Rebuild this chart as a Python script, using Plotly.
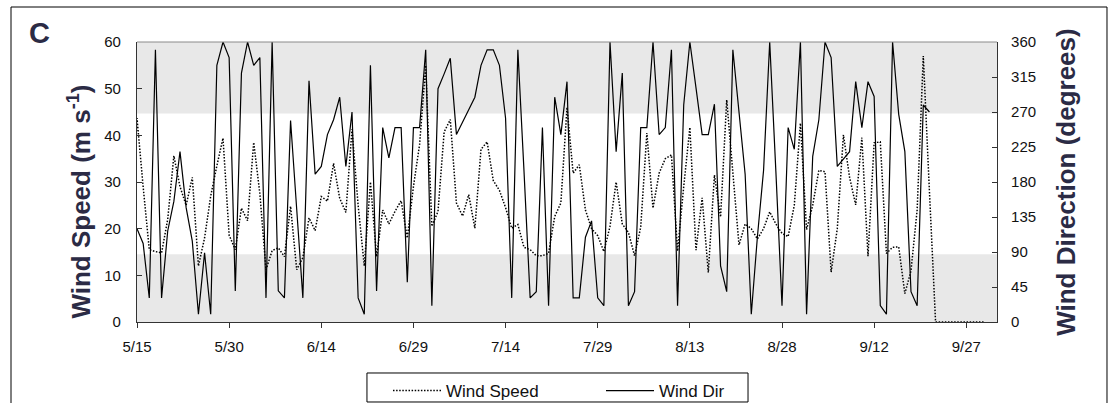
import pandas as pd
import plotly.graph_objects as go

# ---------------- data ----------------
start_date = "2003-05-15"
first_speed_value = 29.0          # reading just before 5/15 (5/14 noon)
wind_speed = [
    43.7, 29, 15.5, 15.1, 14.8, 22, 35.6, 29, 25, 31,
    12, 18, 27, 33.5, 39.4, 18.6, 15.5, 24.4, 21.7, 38.5,
    27.5, 11.2, 15.3, 15.9, 14, 24.8, 11.2, 13.8, 22.3, 19.6,
    26.9, 25.9, 34, 26.5, 23.5, 41.3, 25, 12, 30, 14,
    24, 21, 23.7, 26, 18, 29, 38, 55, 20.5, 23.7,
    40.7, 43.4, 25.5, 22.7, 27.3, 20.1, 37, 38.6, 30.3, 28.2,
    24.5, 20.1, 20.9, 16, 15.5, 14.2, 14.2, 14.7, 22.6, 25.5,
    46, 31.9, 33.7, 24, 20, 18.5, 15.1, 20.5, 30, 21,
    19.2, 14.2, 20.3, 40.5, 24.4, 31.9, 35, 35.8, 15.2, 29,
    41.7, 15.4, 26.6, 10.6, 31.5, 22.5, 47.6, 32, 16.5, 21,
    20, 17.8, 20, 23.6, 21, 19, 18.3, 25, 42.6, 19.8,
    25, 32.5, 32.2, 10.7, 20, 40.1, 31, 25.1, 39.5, 14.1,
    38.4, 38.6, 14.7, 16, 16.1, 6.1, 11, 24, 57, 28,
    0, 0, 0, 0, 0, 0, 0, 0, 0,
]
wind_dir = [
    120, 101, 31, 350, 31, 117, 155, 219, 147, 104,
    10, 89, 10, 330, 360, 340, 40, 320, 360, 330,
    340, 31, 360, 40, 31, 259, 145, 31, 310, 190,
    200, 241, 260, 289, 200, 270, 31, 10, 330, 40,
    250, 211, 250, 250, 51, 250, 250, 350, 21, 300,
    319, 339, 241, 258, 273, 289, 330, 350, 350, 330,
    262, 31, 350, 194, 31, 39, 250, 21, 289, 241,
    309, 31, 31, 109, 130, 31, 21, 360, 219, 320,
    21, 39, 250, 250, 360, 241, 250, 350, 21, 279,
    360, 301, 241, 241, 280, 72, 39, 350, 271, 190,
    10, 110, 195, 360, 194, 21, 250, 222, 360, 10,
    213, 260, 360, 340, 200, 209, 219, 309, 250, 309,
    290, 21, 10, 360, 267, 219, 39, 21, 279, 270,
]
tick_labels = ["5/15", "5/30", "6/14", "6/29", "7/14", "7/29",
               "8/13", "8/28", "9/12", "9/27"]
speed_ticks = [0, 10, 20, 30, 40, 50, 60]
dir_ticks = [0, 45, 90, 135, 180, 225, 270, 315, 360]
dir_bands = [(0, 87), (268, 360)]

# ---------------- build ----------------
t0 = pd.Timestamp(start_date)
speed_x = [t0 - pd.Timedelta(hours=12)] + list(pd.date_range(t0, periods=len(wind_speed), freq="D"))
speed_y = [first_speed_value] + wind_speed
dir_x = list(pd.date_range(t0, periods=len(wind_dir), freq="D"))
tick_vals = list(pd.date_range(t0, periods=len(tick_labels), freq="15D"))

FONT = "Arial, Liberation Sans, sans-serif"
TITLE_COLOR = "#2b2b45"

fig = go.Figure()
fig.add_trace(go.Scatter(
    x=speed_x, y=speed_y, name="Wind Speed", mode="lines",
    line=dict(color="#000000", width=1.5, dash="1.5px,1.6px"), yaxis="y"))
fig.add_trace(go.Scatter(
    x=dir_x, y=wind_dir, name="Wind Dir", mode="lines",
    line=dict(color="#000000", width=1.2), yaxis="y2"))

shapes = []
for lo, hi in dir_bands:
    shapes.append(dict(type="rect", xref="paper", yref="y2", x0=0, x1=1, y0=lo, y1=hi,
                       fillcolor="#e8e8e8", line=dict(width=0), layer="below"))
# plot-area top border
shapes.append(dict(type="line", xref="paper", yref="paper", x0=0, x1=1, y0=1, y1=1,
                   line=dict(color="#8a8a8a", width=1)))
# outer chart frame
shapes.append(dict(type="rect", xref="paper", yref="paper", x0=-0.1465, x1=1.1279,
                   y0=-0.4, y1=1.125, line=dict(color="#000000", width=1)))
# legend frame
shapes.append(dict(type="rect", xref="paper", yref="paper", x0=0.2674, x1=0.7105,
                   y0=-0.2857, y1=-0.1821, line=dict(color="#000000", width=1),
                   fillcolor="rgba(0,0,0,0)"))

fig.update_layout(
    width=1113, height=403,
    margin=dict(l=137, r=116, t=42, b=81, autoexpand=False),
    paper_bgcolor="white", plot_bgcolor="white",
    font=dict(family=FONT, size=15, color="#111111"),
    showlegend=True,
    legend=dict(orientation="h", xref="container", yref="container",
                x=388 / 1113, xanchor="left", y=(403 - 373) / 403, yanchor="top",
                entrywidth=150, itemwidth=48,
                borderwidth=0, bgcolor="rgba(0,0,0,0)",
                font=dict(size=17, family=FONT, color="#111111")),
    xaxis=dict(type="date", range=[t0, t0 + pd.Timedelta(days=140)],
               tickvals=tick_vals, ticktext=tick_labels,
               showline=True, linecolor="#333333", linewidth=1.2,
               ticks="outside", ticklen=5, tickcolor="#333333",
               ticklabelstandoff=6,
               showgrid=False, zeroline=False),
    yaxis=dict(range=[0, 60], tickvals=speed_ticks,
               showline=True, linecolor="#333333", linewidth=1.2,
               ticks="inside", ticklen=5, tickcolor="#333333",
               ticklabelstandoff=12,
               showgrid=False, zeroline=False),
    yaxis2=dict(range=[0, 360], tickvals=dir_ticks, overlaying="y", side="right",
                showline=True, linecolor="#333333", linewidth=1.2,
                ticks="inside", ticklen=5, tickcolor="#333333",
                ticklabelstandoff=10,
                showgrid=False, zeroline=False),
    shapes=shapes,
    annotations=[
        dict(text="<b>C</b>", xref="paper", yref="paper", x=-0.1128, y=1.032,
             xanchor="center", yanchor="middle",
             showarrow=False, font=dict(size=29, color=TITLE_COLOR, family=FONT)),
        dict(text="<b>Wind Speed (m s<sup>-1</sup>)</b>", xref="paper", yref="paper",
             x=-0.0663, y=0.43, xanchor="center", yanchor="middle",
             textangle=-90, showarrow=False,
             font=dict(size=26, color=TITLE_COLOR, family=FONT)),
        dict(text="<b>Wind Direction (degrees)</b>", xref="paper", yref="paper",
             x=1.080, y=0.5, xanchor="center", yanchor="middle",
             textangle=-90, showarrow=False,
             font=dict(size=26, color=TITLE_COLOR, family=FONT)),
    ],
)

fig.write_html("out.html")
